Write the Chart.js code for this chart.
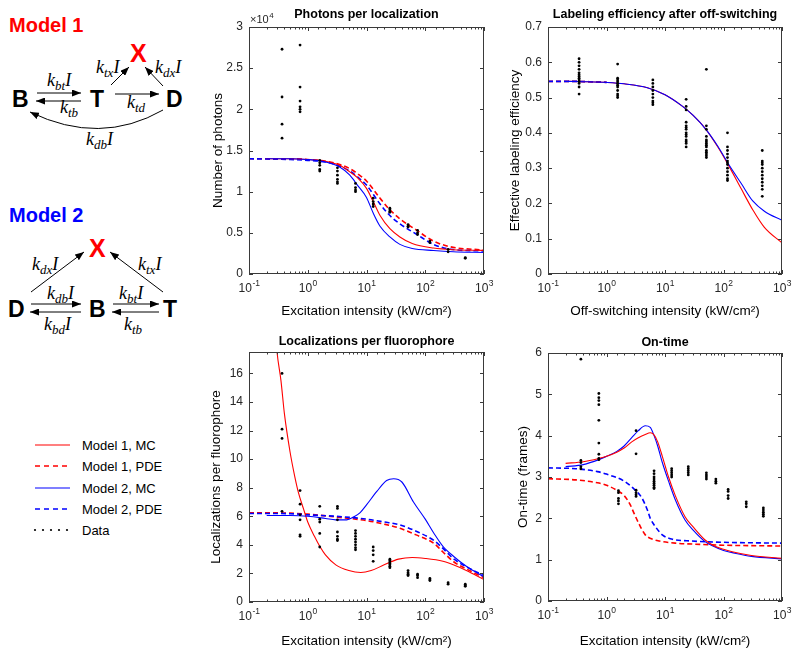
<!DOCTYPE html>
<html>
<head>
<meta charset="utf-8">
<script src="https://cdn.jsdelivr.net/npm/chart.js@4.4.1/dist/chart.umd.min.js"></script>
<style>
body { margin: 0; background: #fff; }
#wrap { position: relative; width: 800px; height: 654px; overflow: hidden; background: #fff; }
canvas, svg { position: absolute; }
.lt { font-family: 'Liberation Sans', Arial, sans-serif; font-weight: bold; }
.r { font-family: 'Liberation Serif', 'Times New Roman', serif; font-style: italic; font-size: 18px; }
.s { font-size: 13px; }
.lg { font-family: 'Liberation Sans', Arial, sans-serif; font-size: 13px; fill: #000; }
</style>
</head>
<body>
<div id="wrap">
<svg width="200" height="654" style="left:0;top:0">
  <defs>
    <marker id="ah" markerWidth="9" markerHeight="7" refX="9" refY="3.5" orient="auto" markerUnits="userSpaceOnUse">
      <path d="M0,0 L9,3.5 L0,7 z" fill="#000"/>
    </marker>
  </defs>
  <!-- Model 1 -->
  <text class="lt" x="9" y="32" font-size="20" fill="#ff0000">Model 1</text>
  <text class="lt" x="130" y="62" font-size="25" fill="#ff0000">X</text>
  <text class="lt" x="12" y="107" font-size="23">B</text>
  <text class="lt" x="90" y="107" font-size="23">T</text>
  <text class="lt" x="166" y="107" font-size="23">D</text>
  <g stroke="#000" stroke-width="1" fill="none" marker-end="url(#ah)">
    <path d="M37,93 L81,93"/>
    <path d="M81,101 L36,101"/>
    <path d="M115,94 L159,94"/>
    <path d="M111,85 L129,67"/>
    <path d="M163,86 L145,67"/>
    <path d="M163,110 Q100,146 30,112"/>
  </g>
  <text class="r" x="47" y="86">k<tspan class="s" dy="4">bt</tspan><tspan dy="-4">I</tspan></text>
  <text class="r" x="60" y="113">k<tspan class="s" dy="4">tb</tspan></text>
  <text class="r" x="96" y="73">k<tspan class="s" dy="4">tx</tspan><tspan dy="-4">I</tspan></text>
  <text class="r" x="155" y="73">k<tspan class="s" dy="4">dx</tspan><tspan dy="-4">I</tspan></text>
  <text class="r" x="127" y="108">k<tspan class="s" dy="4">td</tspan></text>
  <text class="r" x="86" y="145">k<tspan class="s" dy="4">db</tspan><tspan dy="-4">I</tspan></text>

  <!-- Model 2 -->
  <text class="lt" x="9" y="222" font-size="20" fill="#0000ff">Model 2</text>
  <text class="lt" x="89" y="257" font-size="25" fill="#ff0000">X</text>
  <text class="lt" x="8" y="317" font-size="23">D</text>
  <text class="lt" x="89" y="317" font-size="23">B</text>
  <text class="lt" x="163" y="317" font-size="23">T</text>
  <g stroke="#000" stroke-width="1" fill="none" marker-end="url(#ah)">
    <path d="M31,304 L81,304"/>
    <path d="M81,312 L30,312"/>
    <path d="M113,304 L159,304"/>
    <path d="M159,312 L112,312"/>
    <path d="M31,292 L84,252"/>
    <path d="M163,292 L110,252"/>
  </g>
  <text class="r" x="47" y="299">k<tspan class="s" dy="4">db</tspan><tspan dy="-4">I</tspan></text>
  <text class="r" x="44" y="330">k<tspan class="s" dy="4">bd</tspan><tspan dy="-4">I</tspan></text>
  <text class="r" x="119" y="299">k<tspan class="s" dy="4">bt</tspan><tspan dy="-4">I</tspan></text>
  <text class="r" x="124" y="330">k<tspan class="s" dy="4">tb</tspan></text>
  <text class="r" x="32" y="270">k<tspan class="s" dy="4">dx</tspan><tspan dy="-4">I</tspan></text>
  <text class="r" x="138" y="270">k<tspan class="s" dy="4">tx</tspan><tspan dy="-4">I</tspan></text>

  <!-- legend -->
  <g fill="none">
    <path d="M35,445 L70,445" stroke="#ff0000" stroke-width="1.2"/>
    <path d="M35,466 L70,466" stroke="#ff0000" stroke-width="1.5" stroke-dasharray="5,4"/>
    <path d="M35,488 L70,488" stroke="#0000ff" stroke-width="1.2"/>
    <path d="M35,509 L70,509" stroke="#0000ff" stroke-width="1.5" stroke-dasharray="5,4"/>
  </g>
  <g fill="#000">
    <circle cx="35" cy="530" r="1.1"/><circle cx="43" cy="530" r="1.1"/><circle cx="51" cy="530" r="1.1"/>
    <circle cx="59" cy="530" r="1.1"/><circle cx="67" cy="530" r="1.1"/>
  </g>
  <text class="lg" x="82" y="450">Model 1, MC</text>
  <text class="lg" x="82" y="471">Model 1, PDE</text>
  <text class="lg" x="82" y="493">Model 2, MC</text>
  <text class="lg" x="82" y="514">Model 2, PDE</text>
  <text class="lg" x="82" y="535">Data</text>
</svg>
<canvas id="c1" width="300" height="320" style="left:200px;top:0"></canvas>
<canvas id="c2" width="300" height="320" style="left:500px;top:0"></canvas>
<canvas id="c3" width="300" height="334" style="left:200px;top:320px"></canvas>
<canvas id="c4" width="300" height="334" style="left:500px;top:320px"></canvas>
</div>
<script>
// ---------- shared axis values ----------
const xTickValues = [0.1, 1, 10, 100, 1000];
const xTickBase = '10';
const xTickExp = ['-1', '0', '1', '2', '3'];
// excitation intensities of the measured data (kW/cm2)
const dataX = [0.365, 0.74, 1.6, 3.2, 6.5, 13, 25, 51, 74, 120, 245, 480];

// ---------- Photons per localization (x 10^4) ----------
const photonTicks = [0, 0.5, 1, 1.5, 2, 2.5, 3];
const photonTickLabels = ['0', '0.5', '1', '1.5', '2', '2.5', '3'];
const photonMcX = [0.2, 0.5, 1, 2, 3.5, 5.2, 7, 10, 13, 17, 25, 37, 60, 138, 300, 1000];
const photonM1Mc = [1.40, 1.40, 1.39, 1.37, 1.32, 1.24, 1.17, 1.04, 0.88, 0.71, 0.55, 0.45, 0.37, 0.315, 0.295, 0.287];
const photonM2Mc = [1.40, 1.40, 1.39, 1.36, 1.30, 1.20, 1.08, 0.93, 0.74, 0.58, 0.45, 0.36, 0.31, 0.285, 0.27, 0.262];
const photonPdeX = [0.1, 0.5, 1, 2, 3.5, 5.2, 7, 10, 17, 25, 37, 72, 138, 270, 1000];
const photonM1Pde = [1.40, 1.40, 1.39, 1.37, 1.33, 1.28, 1.22, 1.13, 0.92, 0.78, 0.67, 0.53, 0.40, 0.33, 0.29];
const photonM2Pde = [1.40, 1.39, 1.38, 1.36, 1.31, 1.25, 1.18, 1.08, 0.85, 0.71, 0.61, 0.48, 0.36, 0.30, 0.28];
const photonData = [
  [2.73, 2.15, 1.82, 1.65], [2.78, 2.27, 2.1, 2.03, 2.0, 1.97], [1.38, 1.35, 1.32, 1.27, 1.25],
  [1.29, 1.25, 1.2, 1.15, 1.12, 1.1], [1.1, 1.05, 1.02, 1.0], [0.92, 0.88, 0.85, 0.82],
  [0.8, 0.78, 0.76, 0.75], [0.6, 0.58, 0.57], [0.53, 0.5, 0.48], [0.4, 0.38], [0.3, 0.27], [0.2, 0.19]
];

// ---------- Labeling efficiency after off-switching ----------
const effTicks = [0, 0.1, 0.2, 0.3, 0.4, 0.5, 0.6, 0.7];
const effTickLabels = ['0', '0.1', '0.2', '0.3', '0.4', '0.5', '0.6', '0.7'];
const effX = [0.22, 0.5, 1, 2, 5, 10, 20, 30, 50, 80, 120, 200, 316, 500, 1000];
const effM1 = [0.546, 0.545, 0.543, 0.539, 0.528, 0.508, 0.475, 0.45, 0.41, 0.36, 0.31, 0.242, 0.182, 0.132, 0.088];
const effM2 = [0.546, 0.545, 0.543, 0.539, 0.528, 0.508, 0.475, 0.45, 0.41, 0.362, 0.313, 0.257, 0.207, 0.178, 0.152];
const effPdeX = [0.1, 0.22, 0.5, 1];
const effPde = [0.546, 0.546, 0.545, 0.543];
const effDataX = [0.34, 1.55, 6.2, 23, 51, 117, 460];
const effData = [
  [0.61, 0.60, 0.59, 0.58, 0.57, 0.565, 0.56, 0.555, 0.55, 0.545, 0.54, 0.53, 0.51],
  [0.595, 0.555, 0.55, 0.545, 0.54, 0.535, 0.53, 0.52, 0.51, 0.505, 0.50],
  [0.55, 0.54, 0.53, 0.52, 0.51, 0.50, 0.49, 0.485, 0.48],
  [0.495, 0.475, 0.465, 0.43, 0.42, 0.415, 0.41, 0.40, 0.395, 0.39, 0.38, 0.375, 0.37, 0.36],
  [0.58, 0.42, 0.41, 0.39, 0.38, 0.375, 0.37, 0.365, 0.36, 0.35, 0.345, 0.34, 0.335, 0.33],
  [0.40, 0.36, 0.35, 0.34, 0.33, 0.32, 0.315, 0.31, 0.30, 0.29, 0.28, 0.27, 0.265],
  [0.35, 0.32, 0.315, 0.31, 0.30, 0.29, 0.28, 0.27, 0.26, 0.25, 0.24, 0.22]
];

// ---------- Localizations per fluorophore ----------
const locTicks = [0, 2, 4, 6, 8, 10, 12, 14, 16];
const locTickLabels = ['0', '2', '4', '6', '8', '10', '12', '14', '16'];
const locM1McX = [0.27, 0.3, 0.35, 0.4, 0.5, 0.6, 0.7, 0.85, 1, 1.3, 1.6, 2, 3, 5, 8, 12, 20, 35, 60, 100, 200, 300, 500, 1000];
const locM1Mc = [20, 17.5, 15.5, 13.2, 10.5, 8.8, 7.6, 6.5, 5.6, 4.6, 3.9, 3.3, 2.6, 2.2, 2.06, 2.2, 2.6, 3.0, 3.12, 3.05, 2.85, 2.6, 2.2, 1.57];
const locM2McX = [0.2, 0.5, 1, 2, 3, 4.6, 6, 7.8, 10, 15, 22, 29, 40, 63, 100, 141, 200, 309, 500, 1000];
const locM2Mc = [6.05, 6.05, 6.0, 5.85, 5.75, 5.75, 5.95, 6.26, 6.8, 7.74, 8.5, 8.63, 8.4, 7.0, 5.8, 4.8, 3.9, 3.17, 2.5, 1.76];
const locPdeX = [0.1, 0.5, 1, 3, 10, 20, 37, 70, 141, 200, 309, 600, 1000];
const locM1Pde = [6.25, 6.22, 6.15, 5.95, 5.7, 5.45, 5.16, 4.7, 4.1, 3.5, 2.8, 2.15, 1.7];
const locM2Pde = [6.2, 6.18, 6.1, 6.0, 5.8, 5.6, 5.4, 4.95, 4.3, 3.75, 3.0, 2.3, 1.85];
const locData = [
  [16.0, 12.1, 11.45, 6.35], [7.8, 6.85, 6.1, 5.75, 4.7, 4.6], [6.7, 5.8, 5.6, 4.8, 3.85],
  [6.7, 6.55, 5.75, 4.9, 4.6, 4.4, 4.3], [5.0, 4.8, 4.6, 4.4, 4.2, 4.0, 3.8, 3.65], [3.85, 3.6, 3.3, 2.85],
  [3.0, 2.9, 2.8, 2.7, 2.6, 2.5, 2.4], [2.2, 2.05, 1.95, 1.85], [1.95, 1.85, 1.7], [1.65, 1.55, 1.5],
  [1.35, 1.25], [1.25, 1.15, 1.1]
];

// ---------- On-time (frames) ----------
const onTicks = [0, 1, 2, 3, 4, 5, 6];
const onTickLabels = ['0', '1', '2', '3', '4', '5', '6'];
const onMcX = [0.2, 0.4, 0.74, 1, 1.5, 2, 2.7, 3.5, 4.6, 5.6, 6.5, 7.5, 9, 11.5, 15, 22, 30, 49, 66, 100, 141, 300, 1000];
const onM1Mc = [3.33, 3.37, 3.45, 3.5, 3.6, 3.7, 3.85, 3.95, 4.03, 4.07, 4.02, 3.85, 3.5, 3.0, 2.55, 2.04, 1.8, 1.47, 1.35, 1.25, 1.19, 1.1, 1.03];
const onM2Mc = [3.25, 3.3, 3.42, 3.5, 3.62, 3.75, 3.95, 4.12, 4.24, 4.2, 4.0, 3.75, 3.35, 2.9, 2.45, 1.96, 1.72, 1.43, 1.33, 1.22, 1.17, 1.08, 1.02];
const onM1PdeX = [0.1, 0.3, 0.7, 1, 1.5, 2, 2.5, 3, 3.5, 4.6, 6, 8, 15, 40, 100, 1000];
const onM1Pde = [2.96, 2.93, 2.86, 2.8, 2.68, 2.55, 2.35, 2.1, 1.9, 1.6, 1.5, 1.45, 1.4, 1.37, 1.35, 1.33];
const onM2PdeX = [0.1, 0.3, 0.7, 1, 2, 3, 4, 5, 5.6, 7, 9, 13, 29, 100, 1000];
const onM2Pde = [3.22, 3.2, 3.13, 3.07, 2.9, 2.7, 2.5, 2.2, 2.0, 1.78, 1.6, 1.5, 1.45, 1.42, 1.4];
const onData = [
  [5.85, 3.4, 3.35, 3.25, 3.2], [5.02, 4.92, 4.85, 4.75, 4.37, 3.82, 3.55, 3.45, 3.42],
  [2.67, 2.62, 2.48, 2.42, 2.35], [4.12, 3.56, 2.68, 2.62, 2.57, 2.53],
  [3.15, 3.08, 3.0, 2.95, 2.9, 2.85, 2.8, 2.75, 2.72], [3.2, 3.15, 3.1, 3.05, 3.0],
  [3.25, 3.2, 3.15, 3.1, 3.05], [3.1, 3.05, 3.0, 2.95], [2.95, 2.9, 2.85],
  [2.7, 2.65, 2.55, 2.48], [2.4, 2.35, 2.28], [2.25, 2.2, 2.15, 2.1, 2.05]
];

// ---------- helpers ----------
const RED = '#ff0000', BLUE = '#0000ff';
const FONT = "'Liberation Sans', Arial, sans-serif";
Chart.defaults.font.family = FONT;
Chart.defaults.color = '#262626';

function curve(xs, ys, color, dashed) {
  return {
    data: xs.map((x, i) => ({x: x, y: ys[i]})),
    showLine: true, borderColor: color, borderWidth: dashed ? 1.6 : 1.1,
    borderDash: dashed ? [5, 3] : [], pointRadius: 0, fill: false,
    cubicInterpolationMode: 'monotone'
  };
}
function dots(xs, groups) {
  const pts = [];
  groups.forEach((g, i) => g.forEach(y => pts.push({x: xs[i], y: y})));
  return {data: pts, showLine: false, pointRadius: 1.4, backgroundColor: '#000', borderWidth: 0};
}
function isDecade(v) {
  const e = Math.log10(v);
  return Math.abs(e - Math.round(e)) < 1e-6;
}

// matlab style box with inward ticks, power-of-ten labels and the title
const axesBox = {
  id: 'axesBox',
  afterDatasetsDraw(chart, args, o) {
    const {ctx, chartArea: a, scales: {x, y}} = chart;
    ctx.save();
    ctx.strokeStyle = '#3a3a3a';
    ctx.lineWidth = 1;
    ctx.strokeRect(Math.round(a.left) + 0.5, Math.round(a.top) + 0.5, Math.round(a.width) - 1, Math.round(a.height) - 1);
    ctx.beginPath();
    x.ticks.forEach(t => {
      const px = Math.round(x.getPixelForValue(t.value)) + 0.5;
      const len = isDecade(t.value) ? 4 : 2.5;
      ctx.moveTo(px, a.bottom); ctx.lineTo(px, a.bottom - len);
      ctx.moveTo(px, a.top); ctx.lineTo(px, a.top + len);
    });
    y.ticks.forEach(t => {
      const py = Math.round(y.getPixelForValue(t.value)) + 0.5;
      ctx.moveTo(a.left, py); ctx.lineTo(a.left + 4, py);
      ctx.moveTo(a.right, py); ctx.lineTo(a.right - 4, py);
    });
    ctx.stroke();

    // x tick labels as 10 with raised exponent
    ctx.fillStyle = '#262626';
    ctx.textAlign = 'left';
    ctx.textBaseline = 'alphabetic';
    xTickValues.forEach((v, i) => {
      const px = x.getPixelForValue(v);
      ctx.font = '12px ' + FONT;
      const w1 = ctx.measureText(xTickBase).width;
      ctx.font = '8.5px ' + FONT;
      const w2 = ctx.measureText(xTickExp[i]).width;
      const x0 = px - (w1 + w2) / 2;
      ctx.font = '12px ' + FONT;
      ctx.fillText(xTickBase, x0, a.bottom + 18);
      ctx.font = '8.5px ' + FONT;
      ctx.fillText(xTickExp[i], x0 + w1 + 0.5, a.bottom + 12);
    });

    ctx.fillStyle = '#000';
    ctx.font = 'bold 12.5px ' + FONT;
    ctx.textAlign = 'center';
    ctx.textBaseline = 'middle';
    ctx.fillText(o.title, (a.left + a.right) / 2, a.top - o.gap);
    if (o.exponent) {
      ctx.fillStyle = '#262626';
      ctx.textAlign = 'left';
      ctx.font = '11px ' + FONT;
      ctx.fillText('×10', a.left + 1, a.top - 7);
      const w = ctx.measureText('×10').width;
      ctx.font = '8px ' + FONT;
      ctx.fillText(o.exponent, a.left + 1.5 + w, a.top - 11);
    }
    ctx.restore();
  }
};

function makeChart(id, c) {
  return new Chart(document.getElementById(id), {
    type: 'scatter',
    data: {datasets: c.datasets},
    options: {
      responsive: false,
      animation: false,
      layout: {padding: {top: c.top, right: c.right, left: 0, bottom: 0}},
      plugins: {
        legend: {display: false},
        tooltip: {enabled: false},
        axesBox: {title: c.title, gap: c.gap, exponent: c.exponent}
      },
      scales: {
        x: {
          type: 'logarithmic', min: 0.1, max: 1000,
          grid: {display: false, drawTicks: false}, border: {display: false},
          ticks: {display: false, autoSkip: false},
          title: {display: true, text: c.xTitle, font: {size: 13.5}, color: '#000', padding: {top: 0, bottom: c.xTitlePad}},
          afterFit: s => { s.height = c.bottomH; }
        },
        y: {
          min: 0, max: c.yMax,
          grid: {display: false, drawTicks: false}, border: {display: false},
          afterBuildTicks: s => { s.ticks = c.yTicks.map(v => ({value: v})); },
          ticks: {padding: 6, font: {size: 12}, callback: (v, i) => c.yLabels[i]},
          title: {display: true, text: c.yTitle, font: {size: 13.5}, color: '#000', padding: {top: c.yTitlePad, bottom: 0}},
          afterFit: s => { s.width = c.leftW; }
        }
      }
    },
    plugins: [axesBox]
  });
}

// ---------- charts ----------
makeChart('c1', {
  title: 'Photons per localization', gap: 12, exponent: '4',
  top: 27, right: 16, leftW: 49, bottomH: 46,
  xTitle: 'Excitation intensity (kW/cm²)', xTitlePad: 0.5,
  yTitle: 'Number of photons', yTitlePad: 10,
  yMax: 3, yTicks: photonTicks, yLabels: photonTickLabels,
  datasets: [
    dots(dataX, photonData),
    curve(photonMcX, photonM2Mc, BLUE, false),
    curve(photonMcX, photonM1Mc, RED, false),
    curve(photonPdeX, photonM2Pde, BLUE, true),
    curve(photonPdeX, photonM1Pde, RED, true)
  ]
});

makeChart('c2', {
  title: 'Labeling efficiency after off-switching', gap: 12,
  top: 27, right: 18, leftW: 48, bottomH: 46,
  xTitle: 'Off-switching intensity (kW/cm²)', xTitlePad: 0.5,
  yTitle: 'Effective labeling efficiency', yTitlePad: 7,
  yMax: 0.7, yTicks: effTicks, yLabels: effTickLabels,
  datasets: [
    dots(effDataX, effData),
    curve(effX, effM2, BLUE, false),
    curve(effX, effM1, RED, false),
    curve(effPdeX, effPde, BLUE, true),
    curve(effPdeX, effPde, RED, true)
  ]
});

makeChart('c3', {
  title: 'Localizations per fluorophore', gap: 10,
  top: 32, right: 16, leftW: 49, bottomH: 52,
  xTitle: 'Excitation intensity (kW/cm²)', xTitlePad: 4.5,
  yTitle: 'Localizations per fluorophore', yTitlePad: 8.5,
  yMax: 17.5, yTicks: locTicks, yLabels: locTickLabels,
  datasets: [
    dots(dataX, locData),
    curve(locM2McX, locM2Mc, BLUE, false),
    curve(locM1McX, locM1Mc, RED, false),
    curve(locPdeX, locM2Pde, BLUE, true),
    curve(locPdeX, locM1Pde, RED, true)
  ]
});

makeChart('c4', {
  title: 'On-time', gap: 10,
  top: 33, right: 18, leftW: 48, bottomH: 53,
  xTitle: 'Excitation intensity (kW/cm²)', xTitlePad: 4.5,
  yTitle: 'On-time (frames)', yTitlePad: 15,
  yMax: 6, yTicks: onTicks, yLabels: onTickLabels,
  datasets: [
    dots(dataX, onData),
    curve(onMcX, onM1Mc, RED, false),
    curve(onMcX, onM2Mc, BLUE, false),
    curve(onM2PdeX, onM2Pde, BLUE, true),
    curve(onM1PdeX, onM1Pde, RED, true)
  ]
});
</script>
</body>
</html>
